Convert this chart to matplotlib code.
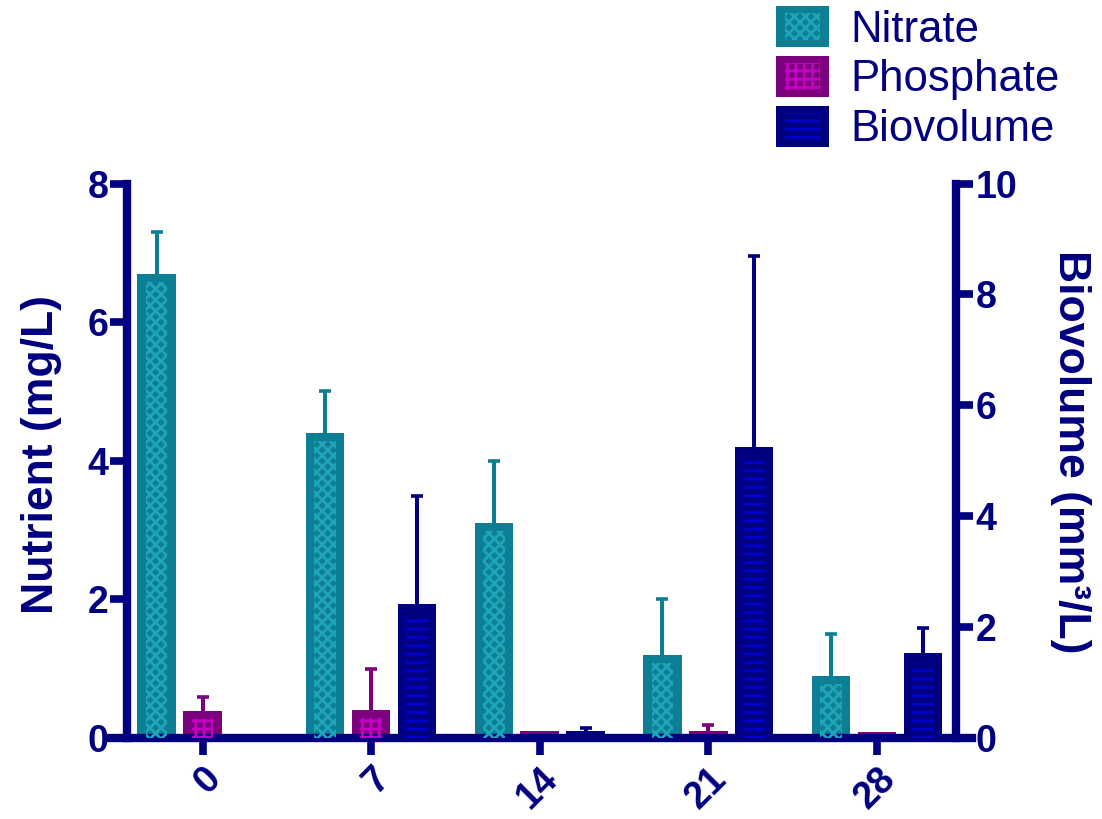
import matplotlib.pyplot as plt
import numpy as np
from matplotlib.patches import Patch, Rectangle
from matplotlib.legend_handler import HandlerPatch, HandlerTuple

# Data
days = ["0", "7", "14", "21", "28"]
nitrate = [6.7, 4.4, 3.1, 1.2, 0.9]
nitrate_err = [0.6, 0.6, 0.9, 0.8, 0.6]
phosphate = [0.39, 0.4, 0.1, 0.1, 0.09]
phosphate_err = [0.2, 0.6, 0.0, 0.09, 0.0]
biovolume = [0.0, 2.42, 0.12, 5.24, 1.53]
biovolume_err = [0.0, 1.94, 0.06, 3.46, 0.46]

plt.rcParams["font.family"] = ["Liberation Sans", "DejaVu Sans"]
plt.rcParams["font.weight"] = "bold"
plt.rcParams["hatch.linewidth"] = 2.0

navy = "#000080"
teal, teal_pat = "#0d7f94", "#20a4b8"
purple, purple_pat = "#7d007f", "#c400c4"
blue, blue_pat = "#000080", "#0000cc"

x = np.arange(len(days))
offset = 0.272
width = 0.228

fig = plt.figure(figsize=(11.02, 8.19), dpi=100)
ax = fig.add_axes([109 / 1102, 1 - 738 / 819, (972 - 109) / 1102, (738 - 183.5) / 819])
ax2 = ax.twinx()

ax.set_xlim(-0.5546, 4.564)
ax.set_ylim(0, 8)
ax2.set_ylim(0, 10)

# (axis, position, values, errors, face colour, pattern colour, hatch, pattern top margin)
series = [
    (ax, x - offset, nitrate, nitrate_err, teal, teal_pat, "xxx", 0.115),
    (ax, x, phosphate, phosphate_err, purple, purple_pat, "++", 0.115),
    (ax2, x + offset, biovolume, biovolume_err, blue, blue_pat, "--", 0.216),
]

for axis, pos, vals, errs, face, pat, hatch, margin in series:
    vals = np.array(vals)
    errs = np.array(errs)

    # Upper error bars only
    has = errs > 0
    axis.vlines(pos[has], vals[has], vals[has] + errs[has], color=face, linewidth=2.9, zorder=1)
    axis.plot(pos[has], vals[has] + errs[has], ls="none", marker="_", markersize=9,
              markeredgewidth=2.6, color=face, zorder=1)

    # Solid bar
    axis.bar(pos, vals, width, color=face, linewidth=0, zorder=2)

    # Inset pattern
    inner = vals - margin
    keep = inner > 0
    axis.bar(pos[keep], inner[keep], width * 0.56, facecolor="none", edgecolor=pat,
             hatch=hatch, linewidth=0, zorder=3)

# Spines
for side in ["top", "right"]:
    ax.spines[side].set_visible(False)
for side in ["top", "left", "bottom"]:
    ax2.spines[side].set_visible(False)
ax.spines["left"].set_position(("data", -0.448))
ax2.spines["right"].set_position(("data", 4.469))
for spine in [ax.spines["left"], ax.spines["bottom"], ax2.spines["right"]]:
    spine.set_linewidth(6)
    spine.set_color(navy)

# Ticks
ax.set_xticks(x)
ax.set_xticklabels(days, rotation=45, ha="right", va="top", rotation_mode="anchor")
ax.set_yticks([0, 2, 4, 6, 8])
ax2.set_yticks([0, 2, 4, 6, 8, 10])
ax.tick_params(axis="both", colors=navy, width=5.5, length=12.5, labelsize=27)
ax.tick_params(axis="x", pad=4)
ax.tick_params(axis="y", pad=1)
ax2.tick_params(axis="y", colors=navy, width=5.5, length=12, labelsize=27, pad=2)

# Axis titles
fig.text(42 / 1102, 1 - 455 / 819, "Nutrient (mg/L)", rotation=90, ha="center",
         va="center", fontsize=32, color=navy)
fig.text(1070 / 1102, 1 - 452 / 819, "Biovolume (mm³/L)", rotation=270, ha="center",
         va="center", fontsize=32, color=navy)


# Legend with inset pattern
def inset_patch(legend, orig_handle, xdescent, ydescent, width, height, fontsize):
    return Rectangle((-xdescent + 0.17 * width, -ydescent + 0.18 * height),
                     0.66 * width, 0.64 * height)


handles = []
handler_map = {tuple: HandlerTuple(ndivide=1, pad=0)}
for _, _, _, _, face, pat, hatch, _ in series:
    inner = Patch(facecolor="none", edgecolor=pat, hatch=hatch, linewidth=0)
    handler_map[inner] = HandlerPatch(patch_func=inset_patch)
    handles.append((Patch(facecolor=face, linewidth=0), inner))

fig.legend(handles, ["Nitrate", "Phosphate", "Biovolume"], handler_map=handler_map,
           loc="upper left", bbox_to_anchor=(776 / 1102, 1 - 6 / 819), frameon=False,
           prop={"size": 31.5, "weight": "normal"}, labelcolor=navy,
           handlelength=1.2, handleheight=1.08, handletextpad=0.5,
           labelspacing=0.12, borderpad=0, borderaxespad=0)

plt.savefig("out.png", dpi=100)
